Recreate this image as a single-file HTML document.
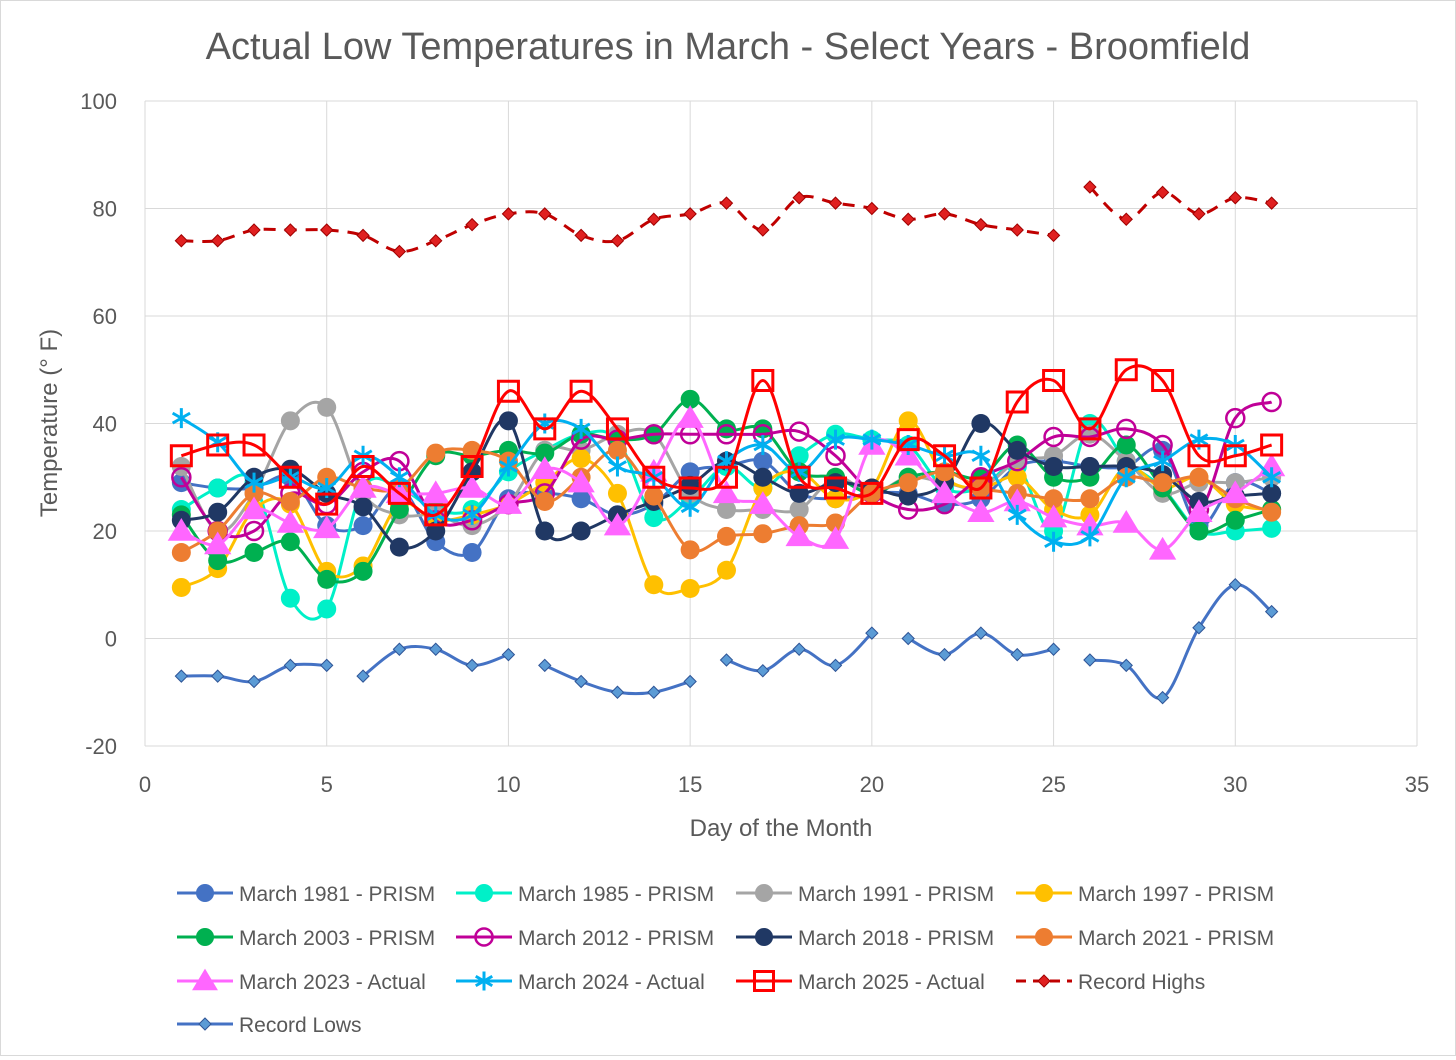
<!DOCTYPE html>
<html><head><meta charset="utf-8"><style>
body{margin:0;background:#fff;font-family:"Liberation Sans",sans-serif}
#wrap{position:relative;width:1456px;height:1056px;box-sizing:border-box;border:1px solid #d9d9d9;background:#fff}
</style></head><body>
<div id="wrap">
<svg id="c" width="1454" height="1054"></svg>
</div>
<script>
const days=[1,2,3,4,5,6,7,8,9,10,11,12,13,14,15,16,17,18,19,20,21,22,23,24,25,26,27,28,29,30,31];
const xTicks=[0,5,10,15,20,25,30,35];
const yTicks=[-20,0,20,40,60,80,100];
const s1981=[29,28,28,30,21,21,28,18,16,26,27,26,23,25,31,32,33,27,26,27,27,25,26,32,33,32,32,35,21,29,27];
const s1985=[24,28,29,7.5,5.5,28,28,24,24,31,35,38,37,22.5,26,32,28,34,38,37,36,28,28,32,20,40,33,28,20,20,20.5];
const s1991=[32,20,27,40.5,43,27,23,23,21,25,35,35,38,38,27,24,24,24,30,27,30,29,28,33,34,38,33,27,29,29,30];
const s1997=[9.5,13,24,25,12.5,13.5,25,22,23,25,29,33.5,27,10,9.3,12.7,28,31,26,28,40.5,30,28,30,24,23,32,28,30,25,24];
const s2003=[23,14.5,16,18,11,12.5,24,34,34,35,34.5,38,37,38,44.5,39,39,31,30,27,30,31,30,36,30,30,36,28,20,22,24];
const s2012=[30,20,20,27,25,31,33,22,22,25,27,37,37,38,38,38,38,38.5,34,27,24,25,30,33,37.5,37.5,39,36,24,41,44];
const s2018=[22,23.5,30,31.5,27,24.5,17,20,31,40.5,20,20,23,25.5,28.5,33,30,27,29,28,26.5,29,40,35,32,32,32,30.5,25.5,26.5,27];
const s2021=[16,20,27,25.5,30,28,28,34.5,35,33,25.5,30,35,26.5,16.5,19,19.5,21,21.5,27,29,31,28,27,26,26,30,29,30,26,23.5];
const s2023=[20,17.5,24,21.5,20.5,28,27,27,28,25,31.5,29,21,31,41,27,25,19,18.5,36,34,27,23.5,25.5,22.5,21,21.5,16.5,23.5,27,32];
const s2024=[41,36.5,29,30,28,34,30,23,23,32,40,39,32,30,24.5,33,36,31,37,37,36,34,34,23,18,19,30,33,37,36,30];
const s2025=[34,36,36,30,25,32,27,23,32,46,39,46,39,30,28,30,48,30,28,27,37,34,28,44,48,39,50,48,34,34,36];
const highs=[74,74,76,76,76,75,72,74,77,79,79,75,74,78,79,81,76,82,81,80,78,79,77,76,75,84,78,83,79,82,81];
const lows=[-7,-7,-8,-5,-5,-7,-2,-2,-5,-3,-5,-8,-10,-10,-8,-4,-6,-2,-5,1,0,-3,1,-3,-2,-4,-5,-11,2,10,5];
const highsBreaks=[25];
const lowsBreaks=[5,10,15,20,25];
const X0=144,X1=1416,Y0=745,Y1=100;
const xs=v=>X0+(v-0)/35*(X1-X0);
const ys=v=>Y0-(v+20)/120*(Y0-Y1);
const svg=document.getElementById('c');
const NS='http://www.w3.org/2000/svg';
function mk(t,a,p){const e=document.createElementNS(NS,t);for(const k in a)e.setAttribute(k,a[k]);(p||svg).appendChild(e);return e;}
yTicks.forEach(v=>{const l=mk('line',{x1:X0,x2:X1,y1:ys(v),y2:ys(v),stroke:'#d9d9d9','stroke-width':1});


const t=mk('text',{x:X0-28,y:ys(v)+8,'text-anchor':'end','font-size':22,fill:'#595959'});t.textContent=v;

});
xTicks.forEach(v=>{const l=mk('line',{x1:xs(v),x2:xs(v),y1:Y1,y2:Y0,stroke:'#d9d9d9','stroke-width':1});


const t=mk('text',{x:xs(v),y:Y0+46,'text-anchor':'middle','font-size':22,fill:'#595959'});t.textContent=v;

});
let t=mk('text',{x:727,y:58,'text-anchor':'middle','font-size':38,fill:'#595959'});t.textContent='Actual Low Temperatures in March - Select Years - Broomfield';


t=mk('text',{x:780,y:835,'text-anchor':'middle','font-size':24,fill:'#595959'});t.textContent='Day of the Month';


t=mk('text',{x:0,y:0,'text-anchor':'middle','font-size':24,fill:'#595959',transform:'translate(56,422) rotate(-90)'});t.textContent='Temperature (° F)';



function pathFor(vals,breaks){
  breaks=breaks||[];
  let segs=[],cur=[];
  vals.forEach((v,i)=>{cur.push([xs(days[i]),ys(v)]);if(breaks.indexOf(days[i])>=0){segs.push(cur);cur=[];}});
  if(cur.length)segs.push(cur);
  let d='';
  segs.forEach(p=>{d+='M'+p[0][0]+','+p[0][1];
    for(let i=0;i<p.length-1;i++){const p0=p[i-1]||p[i],p1=p[i],p2=p[i+1],p3=p[i+2]||p2;
      const c1=[p1[0]+(p2[0]-p0[0])/6,p1[1]+(p2[1]-p0[1])/6],c2=[p2[0]-(p3[0]-p1[0])/6,p2[1]-(p3[1]-p1[1])/6];
      d+='C'+c1+' '+c2+' '+p2;}});
  return d;
}
function marker(g,type,x,y,col,sc){sc=sc||1;
  if(type==='circle')return mk('circle',{cx:x,cy:y,r:9.5*sc,fill:col},g);
  if(type==='ocircle')return mk('circle',{cx:x,cy:y,r:9*sc,fill:'none',stroke:col,'stroke-width':2.5},g);
  if(type==='square')return mk('rect',{x:x-10*sc,y:y-10*sc,width:20*sc,height:20*sc,fill:'none',stroke:col,'stroke-width':3},g);
  if(type==='tri'){const r=13*sc;return mk('polygon',{points:`${x},${y-r} ${x+r*1.05},${y+r*0.75} ${x-r*1.05},${y+r*0.75}`,fill:col},g);}
  if(type==='star'){const r=10*sc;const gg=mk('g',{stroke:col,'stroke-width':3},g);
    mk('line',{x1:x,y1:y-r,x2:x,y2:y+r},gg);mk('line',{x1:x-r*.87,y1:y-r*.5,x2:x+r*.87,y2:y+r*.5},gg);mk('line',{x1:x-r*.87,y1:y+r*.5,x2:x+r*.87,y2:y-r*.5},gg);return gg;}
  if(type==='diamond'){const r=6*sc;return mk('polygon',{points:`${x},${y-r} ${x+r},${y} ${x},${y+r} ${x-r},${y}`,fill:col,stroke:col==='#e02020'?'#a00000':'#2f5597','stroke-width':1},g);}
}
const series=[
 {n:'March 1981 - PRISM',v:s1981,c:'#4472c4',m:'circle',id:'series-1981'},
 {n:'March 1985 - PRISM',v:s1985,c:'#00f0c8',m:'circle',id:'series-1985'},
 {n:'March 1991 - PRISM',v:s1991,c:'#a5a5a5',m:'circle',id:'series-1991'},
 {n:'March 1997 - PRISM',v:s1997,c:'#ffc000',m:'circle',id:'series-1997'},
 {n:'March 2003 - PRISM',v:s2003,c:'#00b050',m:'circle',id:'series-2003'},
 {n:'March 2012 - PRISM',v:s2012,c:'#c00098',m:'ocircle',id:'series-2012'},
 {n:'March 2018 - PRISM',v:s2018,c:'#203864',m:'circle',id:'series-2018'},
 {n:'March 2021 - PRISM',v:s2021,c:'#ed7d31',m:'circle',id:'series-2021'},
 {n:'March 2023 - Actual',v:s2023,c:'#ff66ff',m:'tri',id:'series-2023'},
 {n:'March 2024 - Actual',v:s2024,c:'#00b0f0',m:'star',id:'series-2024'},
 {n:'March 2025 - Actual',v:s2025,c:'#ff0000',m:'square',id:'series-2025'},
 {n:'Record Highs',v:highs,b:highsBreaks,c:'#c00000',m:'diamond',id:'series-record-highs',dash:true,mc:'#e02020'},
 {n:'Record Lows',v:lows,b:lowsBreaks,c:'#4472c4',m:'diamond',id:'series-record-lows',mc:'#5b9bd5'}
];
series.forEach(s=>{
  const g=mk('g',{});
  
  
  const p=mk('path',{d:pathFor(s.v,s.b),fill:'none',stroke:s.c,'stroke-width':3,'stroke-dasharray':s.dash?'12,9':'none'},g);
  
  
  s.v.forEach((v,i)=>{const e=marker(g,s.m,xs(days[i]),ys(v),s.mc||s.c);
    
    });
});
const lx=[176,455,735,1015],ly=[892,936,980,1023];
series.forEach((s,i)=>{
  const x=lx[i%4],y=ly[Math.floor(i/4)];
  const g=mk('g',{});
  
  
  mk('line',{x1:x,x2:x+56,y1:y,y2:y,stroke:s.c,'stroke-width':3,'stroke-dasharray':s.dash?'10,7':'none'},g);
  marker(g,s.m,x+28,y,s.mc||s.c,s.m==='diamond'?1:0.95);
  const tt=mk('text',{x:x+62,y:y+8,'font-size':21,fill:'#595959'},g);tt.textContent=s.n;
});
</script>
</body></html>
